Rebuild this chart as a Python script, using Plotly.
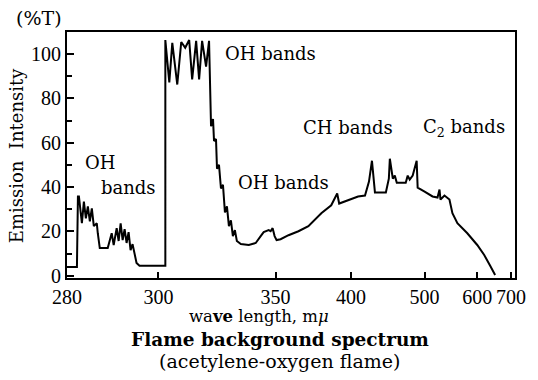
import plotly.graph_objects as go

# Position along the recorder's (non-linear, prism-dispersion) wavelength scale.
# 0 = 280 mμ at the left edge of the chart.
scale_pos = [0, 10, 11, 12, 15, 17, 19, 21, 23, 25, 27, 30, 31, 33, 41, 45, 47, 50, 52, 54,
             56, 58, 60, 62, 64, 66, 70, 73, 99, 99,
             103, 106, 111, 115, 119, 123, 126, 130, 133, 136, 140, 143, 145, 147, 148, 150,
             151, 153, 155, 157, 159, 161, 163, 165, 167, 169, 171, 175, 183, 190, 195, 198,
             203, 205, 207, 209, 211, 215, 223, 233, 243, 256, 266, 270, 272, 274, 283, 293,
             300, 304, 307, 310, 321, 324, 325, 328, 330, 332, 341, 343, 345, 348, 352, 353,
             360, 368, 373, 375, 376, 380, 385, 388, 393, 403, 413, 420, 426, 431]
intensity = [4.0, 4.0, 35.8, 35.8, 23.7, 33.5, 25.9, 31.3, 24.6, 30.4, 22.4, 23.7, 19.2, 12.5,
             12.5, 19.2, 13.9, 21.5, 15.7, 23.7, 16.1, 21.0, 14.8, 19.7, 11.6, 14.3, 5.8, 4.5,
             4.5, 106.4,
             87.2, 105.1, 86.3, 105.5, 102.9, 106.4, 88.6, 106.0, 88.6, 106.0, 94.4, 106.0,
             67.5, 70.7, 60.8, 61.7, 48.3, 50.1, 39.4, 41.1, 28.6, 31.3, 22.4, 25.0, 17.9,
             20.6, 15.7, 14.3, 13.9, 14.8, 17.9, 19.7, 20.6, 20.1, 21.5, 17.9, 16.1, 16.5,
             18.3, 20.1, 22.4, 28.2, 31.8, 35.8, 37.1, 32.6, 34.0, 35.8, 36.2, 42.5, 51.9,
             37.6, 37.6, 43.8, 52.8, 43.8, 45.2, 42.0, 42.0, 45.2, 43.4, 45.2, 51.9, 39.8,
             38.0, 35.8, 35.3, 38.9, 34.4, 36.2, 34.4, 28.2, 23.7, 19.2, 13.9, 9.4, 4.5, 0.4]

tick_wavelengths = ["280", "300", "350", "400", "500", "600", "700"]
tick_positions = [0, 92, 210, 286, 360, 413, 447]

SERIF = "Liberation Serif, Times New Roman, serif"
TEXT = "DejaVu Serif, serif"

fig = go.Figure()
fig.add_trace(go.Scatter(x=scale_pos, y=intensity, mode="lines",
                         line=dict(color="black", width=2), hoverinfo="skip",
                         showlegend=False))

axis_common = dict(showline=True, linecolor="black", linewidth=2, mirror=True,
                   showgrid=False, zeroline=False, ticks="inside", tickcolor="black",
                   tickfont=dict(family=SERIF, size=20, color="black"))

fig.update_xaxes(range=[0, 451], tickmode="array", tickvals=tick_positions,
                 ticktext=tick_wavelengths, ticklen=6, tickwidth=2, tickangle=0,
                 ticklabelstandoff=0, **axis_common)
fig.update_yaxes(range=[-1, 110], tickmode="linear", tick0=0, dtick=20, ticklen=7,
                 tickwidth=2, minor=dict(dtick=10, ticks="inside", ticklen=5,
                                         tickcolor="black", tickwidth=2),
                 **axis_common)

def ann(text, x, y, size=18, xanchor="center", angle=0, family=TEXT):
    fig.add_annotation(text=text, x=x, y=y, xref="paper", yref="paper",
                       xanchor=xanchor, yanchor="middle", showarrow=False,
                       textangle=angle, font=dict(family=family, size=size, color="black"))

ann("(%T)", -0.062, 1.057, size=19)
ann("Emission  Intensity", -0.111, 0.496, size=18, angle=-90)
ann("OH", 0.0355, 0.4715, size=18, xanchor="left")
ann("bands", 0.1375, 0.366, size=18)
ann("OH bands", 0.4545, 0.9146, size=18)
ann("OH bands", 0.4834, 0.3862, size=18)
ann("CH bands", 0.6275, 0.6098, size=18)
ann("C<sub>2</sub> bands", 0.8869, 0.6098, size=18)
ann("wa<b>ve</b> length, m<i>μ</i>", 0.428, -0.155, size=16.5)
ann("<b>Flame background spectrum</b>", 0.4745, -0.252, size=18.5)
ann("(acetylene-oxygen flame)", 0.4745, -0.339, size=19)

fig.update_layout(width=538, height=380, margin=dict(l=67, r=20, t=32, b=102),
                  paper_bgcolor="white", plot_bgcolor="white")

fig.write_html("out.html", config={"displayModeBar": False},
               post_script="document.body.style.margin='0';document.body.style.padding='0';")
